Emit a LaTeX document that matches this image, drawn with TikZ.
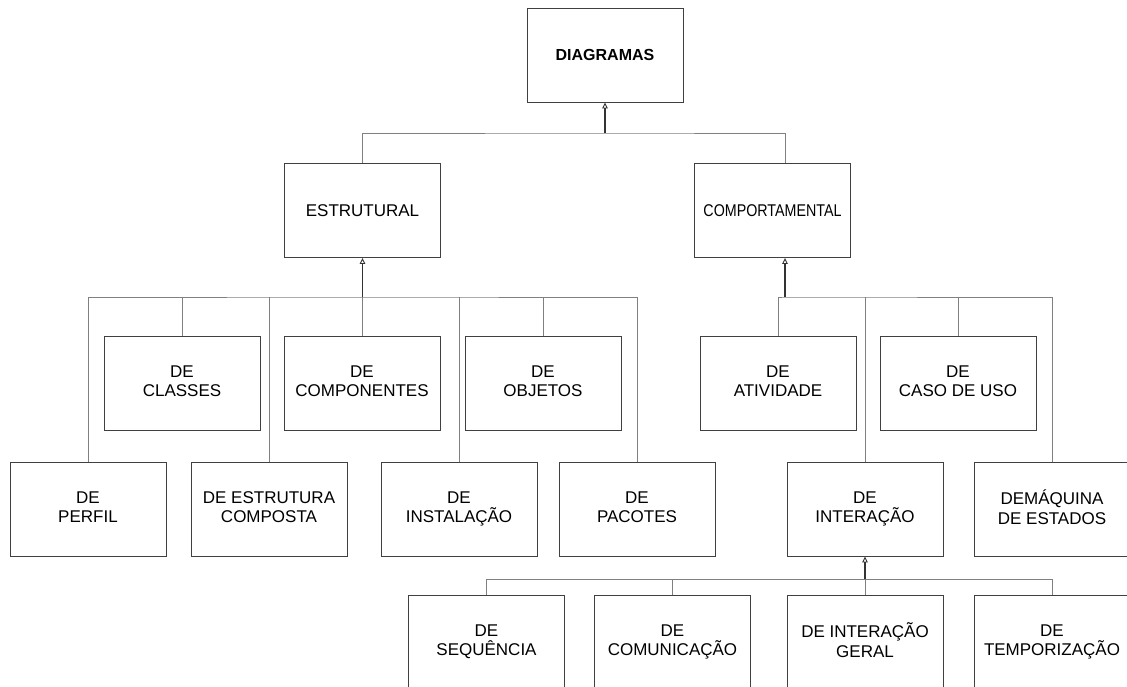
\documentclass[tikz,border=0pt]{standalone}
\usepackage{fontspec}
\setmainfont{Liberation Sans}
\usetikzlibrary{arrows.meta}
% equal height and depth for every label, whatever its accents
\newcommand{\lblstrut}{\vphantom{ÁÂÃÇ}}
\begin{document}
\begin{tikzpicture}[x=1pt,y=-1pt,
  box/.style={draw=black!75, line width=0.9pt, minimum width=156pt, minimum height=94pt,
    inner sep=0pt, align=center, font=\fontsize{17}{19.7}\selectfont,
    execute at begin node=\lblstrut, execute at end node=\lblstrut},
  wire/.style={draw=black!50, line width=1pt},
  stem/.style={draw=black!80, line width=1.1pt,
    -{Triangle[open, length=6pt, width=5.5pt, line width=0.9pt]}}]
\useasboundingbox (0,0) rectangle (1127,686);
\clip (0,0) rectangle (1127,686);

% top levels
\node[box, font=\bfseries\fontsize{16}{19}\selectfont] (diag) at (605,55) {DIAGRAMAS};
\node[box] (estr) at (362.5,210.5) {ESTRUTURAL};
\node[box] (comp) at (772.5,210.5) {\scalebox{0.84}[1]{COMPORTAMENTAL}};

% structural diagrams
\node[box] (perfil) at (88,509) {DE\\PERFIL};
\node[box] (classes) at (182,383) {DE\\CLASSES};
\node[box] (estcomp) at (269,509) {DE ESTRUTURA\\COMPOSTA};
\node[box] (componentes) at (362,383) {DE\\COMPONENTES};
\node[box] (instalacao) at (459,509) {DE\\INSTALAÇÃO};
\node[box] (objetos) at (543,383) {DE\\OBJETOS};
\node[box] (pacotes) at (637,509) {DE\\PACOTES};

% behavioural diagrams
\node[box] (atividade) at (778,383) {DE\\ATIVIDADE};
\node[box] (interacao) at (865,509) {DE\\INTERAÇÃO};
\node[box] (casouso) at (958,383) {DE\\CASO DE USO};
\node[box] (maquina) at (1052,509) {DEMÁQUINA\\DE ESTADOS};

% interaction diagrams
\node[box] (sequencia) at (486.5,642) {DE\\SEQUÊNCIA};
\node[box] (comunicacao) at (672.5,642) {DE\\COMUNICAÇÃO};
\node[box] (geral) at (865,642) {DE INTERAÇÃO\\GERAL};
\node[box] (temporizacao) at (1052,642) {DE\\TEMPORIZAÇÃO};

% bus junctions
\coordinate (busD) at (605,133);
\coordinate (busE) at (362.5,297);
\coordinate (busC) at (785,297);
\coordinate (busI) at (865,579);

% DIAGRAMAS
\draw[wire] (estr.north) |- (busD) -| (comp.north -| busC);
\draw[stem] (busD) -- (diag.south);

% ESTRUTURAL
\draw[wire] (perfil.north) |- (busE) -| (pacotes.north);
\foreach \c in {classes,estcomp,componentes,instalacao,objetos}
  \draw[wire] (\c.north) -- (\c.north |- busE);
\draw[stem] (busE) -- (estr.south);

% COMPORTAMENTAL
\draw[wire] (atividade.north) |- (busC) -| (maquina.north);
\foreach \c in {interacao,casouso}
  \draw[wire] (\c.north) -- (\c.north |- busC);
\draw[stem] (busC) -- (comp.south -| busC);

% DE INTERACAO
\draw[wire] (sequencia.north) |- (busI) -| (temporizacao.north);
\foreach \c in {comunicacao,geral}
  \draw[wire] (\c.north) -- (\c.north |- busI);
\draw[stem] (busI) -- (interacao.south);
\end{tikzpicture}
\end{document}
